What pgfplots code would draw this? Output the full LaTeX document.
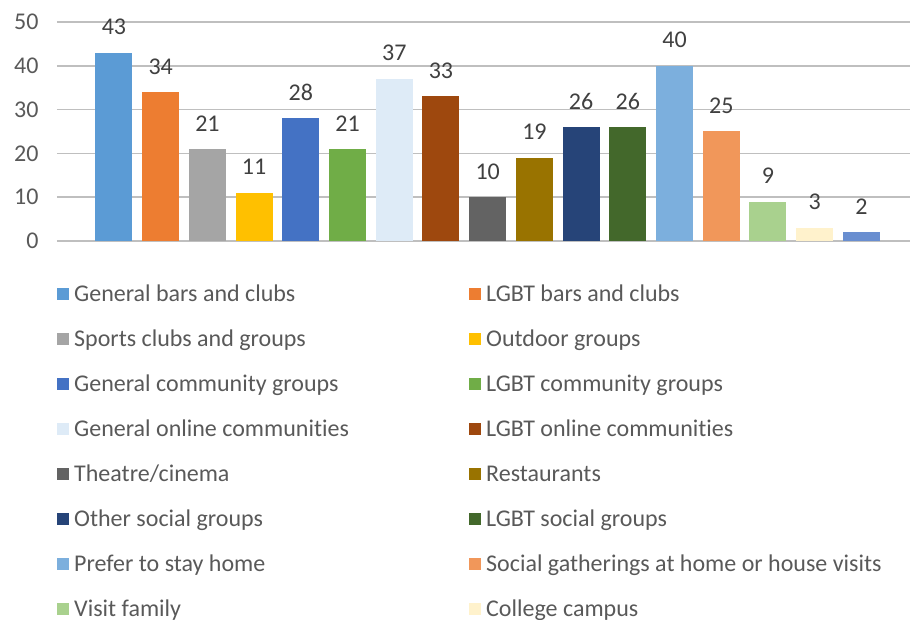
\documentclass[border=0pt]{standalone}
\usepackage{pgfplots}
\pgfplotsset{compat=1.18}
\usepackage{fontspec}
\setmainfont{Carlito}[Ligatures=CommonOff]

\definecolor{txt}{HTML}{595959}
\definecolor{lbl}{HTML}{404040}
\definecolor{grid}{HTML}{D9D9D9}
\definecolor{c1}{HTML}{5B9BD5}
\definecolor{c2}{HTML}{ED7D31}
\definecolor{c3}{HTML}{A5A5A5}
\definecolor{c4}{HTML}{FFC000}
\definecolor{c5}{HTML}{4472C4}
\definecolor{c6}{HTML}{70AD47}
\definecolor{c7}{HTML}{DEEBF7}
\definecolor{c8}{HTML}{9E480E}
\definecolor{c9}{HTML}{636363}
\definecolor{c10}{HTML}{997300}
\definecolor{c11}{HTML}{264478}
\definecolor{c12}{HTML}{43682B}
\definecolor{c13}{HTML}{7CAFDD}
\definecolor{c14}{HTML}{F1975A}
\definecolor{c15}{HTML}{A9D18E}
\definecolor{c16}{HTML}{FFF2CC}
\definecolor{c17}{HTML}{698ED0}

\newcommand{\cola}[1]{\makebox[390pt][l]{#1}}

\begin{document}
\begin{tikzpicture}
\path[use as bounding box] (0,0) rectangle (910pt,620pt);
\begin{axis}[
    at={(57pt,379pt)}, anchor=south west,
    scale only axis,
    width=853pt, height=219pt,
    xmin=-1.22, xmax=17.04,
    ymin=0, ymax=50,
    ytick={0,10,...,50},
    xtick=\empty,
    axis line style={draw=none},
    ymajorgrids,
    grid style={grid, line width=1.5pt},
    major tick length=0pt,
    /pgf/number format/assume math mode=true,
    tick label style={font=\fontsize{24}{28}\selectfont, text=txt},
    yticklabel style={xshift=-15pt},
    every axis plot/.append style={ybar, bar width=37pt, bar shift=0pt, draw=none,
        nodes near coords,
        every node near coord/.append style={font=\fontsize{24}{28}\selectfont, text=lbl,
            anchor=base, inner sep=0pt, yshift=18pt}},
    legend columns=2,
    legend cell align=left,
    legend image code/.code={\fill[#1] (0pt,-5pt) rectangle (12pt,7pt);},
    legend style={at={(0,-0.196)}, anchor=north west, draw=none, fill=none,
        inner sep=0pt, font=\fontsize{24}{28}\selectfont, text=txt,
        row sep=23pt, column sep=0pt,
        nodes={inner xsep=5pt, inner ysep=0pt, text height=17pt, text depth=5pt}},
]
\addplot[fill=c1] coordinates {(0,43)};
\addlegendentry{\cola{General bars and clubs}}
\addplot[fill=c2] coordinates {(1,34)};
\addlegendentry{LGBT bars and clubs}
\addplot[fill=c3] coordinates {(2,21)};
\addlegendentry{\cola{Sports clubs and groups}}
\addplot[fill=c4] coordinates {(3,11)};
\addlegendentry{Outdoor groups}
\addplot[fill=c5] coordinates {(4,28)};
\addlegendentry{\cola{General community groups}}
\addplot[fill=c6] coordinates {(5,21)};
\addlegendentry{LGBT community groups}
\addplot[fill=c7] coordinates {(6,37)};
\addlegendentry{\cola{General online communities}}
\addplot[fill=c8] coordinates {(7,33)};
\addlegendentry{LGBT online communities}
\addplot[fill=c9] coordinates {(8,10)};
\addlegendentry{\cola{Theatre/cinema}}
\addplot[fill=c10] coordinates {(9,19)};
\addlegendentry{Restaurants}
\addplot[fill=c11] coordinates {(10,26)};
\addlegendentry{\cola{Other social groups}}
\addplot[fill=c12] coordinates {(11,26)};
\addlegendentry{LGBT social groups}
\addplot[fill=c13] coordinates {(12,40)};
\addlegendentry{\cola{Prefer to stay home}}
\addplot[fill=c14] coordinates {(13,25)};
\addlegendentry{Social gatherings at home or house visits}
\addplot[fill=c15] coordinates {(14,9)};
\addlegendentry{\cola{Visit family}}
\addplot[fill=c16] coordinates {(15,3)};
\addlegendentry{College campus}
\addplot[fill=c17, forget plot] coordinates {(16,2)};
\end{axis}
\end{tikzpicture}
\end{document}
